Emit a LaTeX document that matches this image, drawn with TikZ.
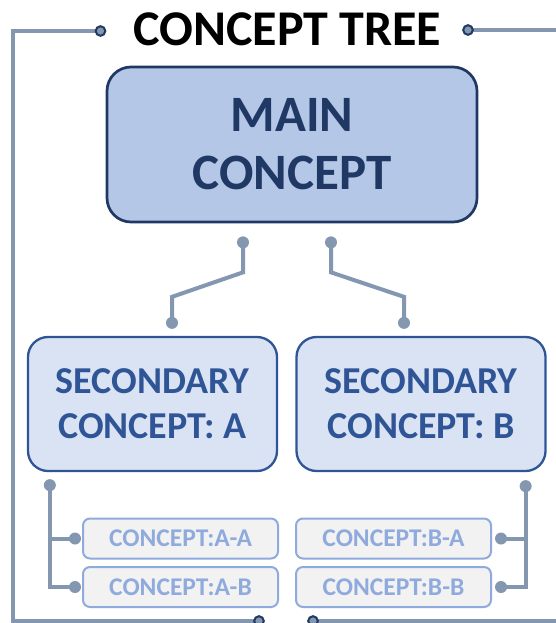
\documentclass[tikz,border=0pt]{standalone}
\usepackage{fontspec}
\setmainfont{Carlito}
\usetikzlibrary{calc}

\definecolor{linkgray}{HTML}{8497B0}
\definecolor{navy}{HTML}{203864}
\definecolor{mainfill}{HTML}{B4C7E7}
\definecolor{secblue}{HTML}{2F5597}
\definecolor{secfill}{HTML}{DAE3F3}
\definecolor{leafblue}{HTML}{8FAADC}
\definecolor{leaffill}{HTML}{F2F2F2}

\tikzset{
  mainbox/.style={draw=navy, line width=2.7pt, fill=mainfill, rounded corners=24pt,
    minimum width=370pt, minimum height=155pt, align=center, text=navy,
    font=\bfseries\fontsize{51}{58}\selectfont, inner sep=0pt},
  secbox/.style={draw=secblue, line width=2.3pt, fill=secfill, rounded corners=20pt,
    minimum width=249pt, minimum height=134pt, align=center, text=secblue,
    font=\bfseries\fontsize{38}{45}\selectfont, inner sep=0pt},
  leafbox/.style={draw=leafblue, line width=2pt, fill=leaffill, rounded corners=7pt,
    minimum width=195pt, minimum height=40pt, text=leafblue,
    font=\bfseries\fontsize{25.5}{28}\selectfont, inner sep=0pt},
  link/.style={draw=linkgray, line width=4pt},
  dot/.style={fill=linkgray},
  framedot/.style={fill=linkgray, draw=navy, line width=2pt},
}

\begin{document}
\begin{tikzpicture}[x=1pt, y=-1pt]
  \useasboundingbox[fill=white] (0,0) rectangle (555,623);

  % title
  \node[anchor=base, font=\bfseries\fontsize{50}{58}\selectfont] (title) at (287.5,46) {CONCEPT TREE};

  % outer bracket frame
  \coordinate (ftl) at (100.5,31);
  \coordinate (ftr) at (468,30);
  \coordinate (fbl) at (259,621);
  \coordinate (fbr) at (313,621);
  \draw[link] (ftl) -- (12.5,31) -- (12.5,621) -- (fbl);
  \draw[link] (ftr) -- (556,30);
  \draw[link] (fbr) -- (556,621);
  \foreach \p in {ftl,ftr,fbl,fbr} \draw[framedot] (\p) circle (4.8pt);

  % boxes
  \node[mainbox] (main) at (292,144.5) {MAIN\\CONCEPT};
  \node[secbox] (secA) at (152.5,404) {SECONDARY\\CONCEPT: A};
  \node[secbox] (secB) at (421,404) {SECONDARY\\CONCEPT: B};
  \node[leafbox] (aa) at (180.5,538.5) {CONCEPT:A-A};
  \node[leafbox] (ab) at (180.5,587) {CONCEPT:A-B};
  \node[leafbox] (ba) at (393.5,538.5) {CONCEPT:B-A};
  \node[leafbox] (bb) at (393.5,587) {CONCEPT:B-B};

  % main -> secondary links
  \coordinate (m1) at ($(main.south)+(-49,19)$);
  \coordinate (m2) at ($(main.south)+(39,19)$);
  \coordinate (a1) at ($(secA.north)+(19.5,-13)$);
  \coordinate (b1) at ($(secB.north)+(-17,-13)$);
  \draw[link] (m1) -- ++(0,30) -- ($(a1)+(0,-26)$) -- (a1);
  \draw[link] (m2) -- ++(0,30) -- ($(b1)+(0,-26)$) -- (b1);
  \foreach \p in {m1,m2,a1,b1} \fill[dot] (\p) circle (6pt);

  % secondary A -> leaves
  \coordinate (a2) at ($(secA.south west)+(23,13)$);
  \coordinate (aaD) at ($(aa.west)+(-7,0)$);
  \coordinate (abD) at ($(ab.west)+(-7,0)$);
  \draw[link] (a2) |- (abD);
  \draw[link] (a2 |- aaD) -- (aaD);

  % secondary B -> leaves
  \coordinate (b2) at ($(secB.south east)+(-21,14)$);
  \coordinate (baD) at ($(ba.east)+(9,0)$);
  \coordinate (bbD) at ($(bb.east)+(9,0)$);
  \draw[link] (b2) |- (bbD);
  \draw[link] (b2 |- baD) -- (baD);

  \foreach \p in {a2,aaD,abD,b2,baD,bbD} \fill[dot] (\p) circle (6pt);
\end{tikzpicture}
\end{document}
